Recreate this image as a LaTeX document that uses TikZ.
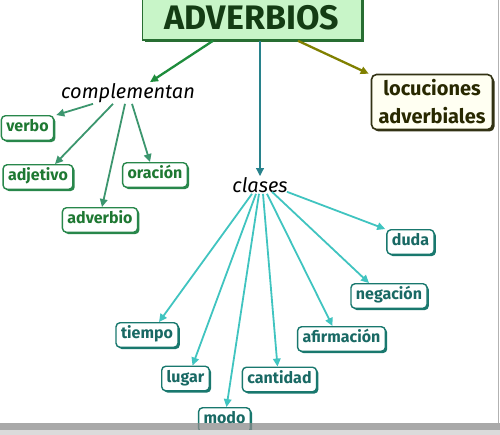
\documentclass[tikz,border=0pt]{standalone}
\usepackage{fontspec}
\setmainfont{Fira Sans}
\usetikzlibrary{arrows.meta, shadows}

\definecolor{titlefill}{RGB}{200,245,200}
\definecolor{titleline}{RGB}{40,110,50}
\definecolor{titletext}{RGB}{20,60,20}
\definecolor{greenline}{RGB}{40,135,75}
\definecolor{greentext}{RGB}{30,120,50}
\definecolor{greenarrow}{RGB}{60,150,110}
\definecolor{tealline}{RGB}{25,120,110}
\definecolor{tealtext}{RGB}{25,105,100}
\definecolor{tealarrow}{RGB}{64,196,192}
\definecolor{mainarrow}{RGB}{30,140,60}
\definecolor{downarrow}{RGB}{40,130,140}
\definecolor{olivearrow}{RGB}{128,128,0}
\definecolor{locline}{RGB}{50,50,20}
\definecolor{loctext}{RGB}{40,40,0}
\definecolor{locfill}{RGB}{255,255,242}

\begin{document}
\begin{tikzpicture}[x=1pt, y=-1pt,
  box/.style={draw, line width=1.4pt, rounded corners=4pt, fill=white,
    font=\fontsize{16}{19}\selectfont\bfseries,
    text height=10.5pt, text depth=3pt, inner xsep=5pt, inner ysep=5.5pt},
  greenbox/.style={box, draw=greenline, text=greentext,
    drop shadow={shadow xshift=1.8pt, shadow yshift=-1.8pt, fill=greenline, opacity=1}},
  tealbox/.style={box, draw=tealline, text=tealtext,
    drop shadow={shadow xshift=1.8pt, shadow yshift=-1.8pt, fill=tealline, opacity=1}},
  word/.style={font=\fontsize{20}{24}\selectfont\itshape, text=black, inner sep=1pt},
  link/.style={line width=1.8pt, -{Triangle[length=8pt, width=7.5pt]}}]
  \useasboundingbox (0,0) rectangle (500,435);

  % titulo y ramas principales
  \node[draw=titleline, fill=titlefill, line width=1.6pt, text=titletext,
    font=\fontsize{34}{40}\selectfont\bfseries,
    minimum width=219pt, minimum height=44pt,
    drop shadow={shadow xshift=2pt, shadow yshift=-2pt, fill=titleline, opacity=1}]
    (adv) at (252,18) {ADVERBIOS};
  \node[word] (comp) at (128,93) {complementan};
  \node[word] (clases) at (260,185) {clases};
  \node[draw=locline, fill=locfill, line width=1.6pt, rounded corners=5pt, text=loctext,
    font=\fontsize{20}{28}\selectfont\bfseries, align=center,
    minimum width=121pt, minimum height=55pt,
    drop shadow={shadow xshift=2pt, shadow yshift=-2pt, fill=locline, opacity=1}]
    (loc) at (432,102) {locuciones\\adverbiales};

  % complementan
  \node[greenbox] (verbo) at (27.5,128) {verbo};
  \node[greenbox] (adjetivo) at (38,177) {adjetivo};
  \node[greenbox] (oracion) at (155,175) {oración};
  \node[greenbox] (adverbio) at (100,220) {adverbio};

  % clases
  \node[tealbox] (duda) at (410.5,242) {duda};
  \node[tealbox] (negacion) at (389,296) {negación};
  \node[tealbox] (afirmacion) at (341.5,339) {afirmación};
  \node[tealbox] (cantidad) at (279.5,379.5) {cantidad};
  \node[tealbox] (modo) at (224.5,420) {modo};
  \node[tealbox] (lugar) at (185.5,378.5) {lugar};
  \node[tealbox] (tiempo) at (147,335) {tiempo};

  \draw[link, mainarrow, line width=2.3pt] ([xshift=-39pt]adv.south) -- ([xshift=22pt]comp.north);
  \draw[link, downarrow, line width=2.1pt] ([xshift=8pt]adv.south) -- (clases.north);
  \draw[link, olivearrow, line width=2.3pt] ([xshift=46pt]adv.south) -- ([xshift=-2pt]loc.north west);

  \draw[link, greenarrow] ([xshift=-35pt]comp.south) -- ([xshift=2pt]verbo.north east);
  \draw[link, greenarrow] ([xshift=-15pt]comp.south) -- ([xshift=17pt]adjetivo.north);
  \draw[link, greenarrow] ([xshift=-3pt]comp.south) -- ([xshift=2pt]adverbio.north);
  \draw[link, greenarrow] ([xshift=4pt]comp.south) -- ([xshift=-5pt]oracion.north);

  \draw[link, tealarrow] ([xshift=27pt, yshift=2pt]clases.south) -- ([xshift=-1pt]duda.north west);
  \draw[link, tealarrow] ([xshift=12pt, yshift=2pt]clases.south) -- ([xshift=-20pt]negacion.north);
  \draw[link, tealarrow] ([xshift=7pt]clases.south) -- ([xshift=-9pt]afirmacion.north);
  \draw[link, tealarrow] ([xshift=3pt]clases.south) -- ([xshift=-2pt]cantidad.north);
  \draw[link, tealarrow] ([xshift=-1pt]clases.south) -- ([xshift=2pt]modo.north);
  \draw[link, tealarrow] ([xshift=-4pt]clases.south) -- ([xshift=7pt]lugar.north);
  \draw[link, tealarrow] ([xshift=-8pt]clases.south) -- ([xshift=12pt]tiempo.north);

  % barra inferior y borde de la ventana
  \fill[black!45, fill opacity=0.75] (0,423) rectangle (500,430);
  \fill[black!14] (0,430) rectangle (500,435);
  \draw[black!30, line width=1pt] (498.5,0) -- (498.5,423);
\end{tikzpicture}
\end{document}
